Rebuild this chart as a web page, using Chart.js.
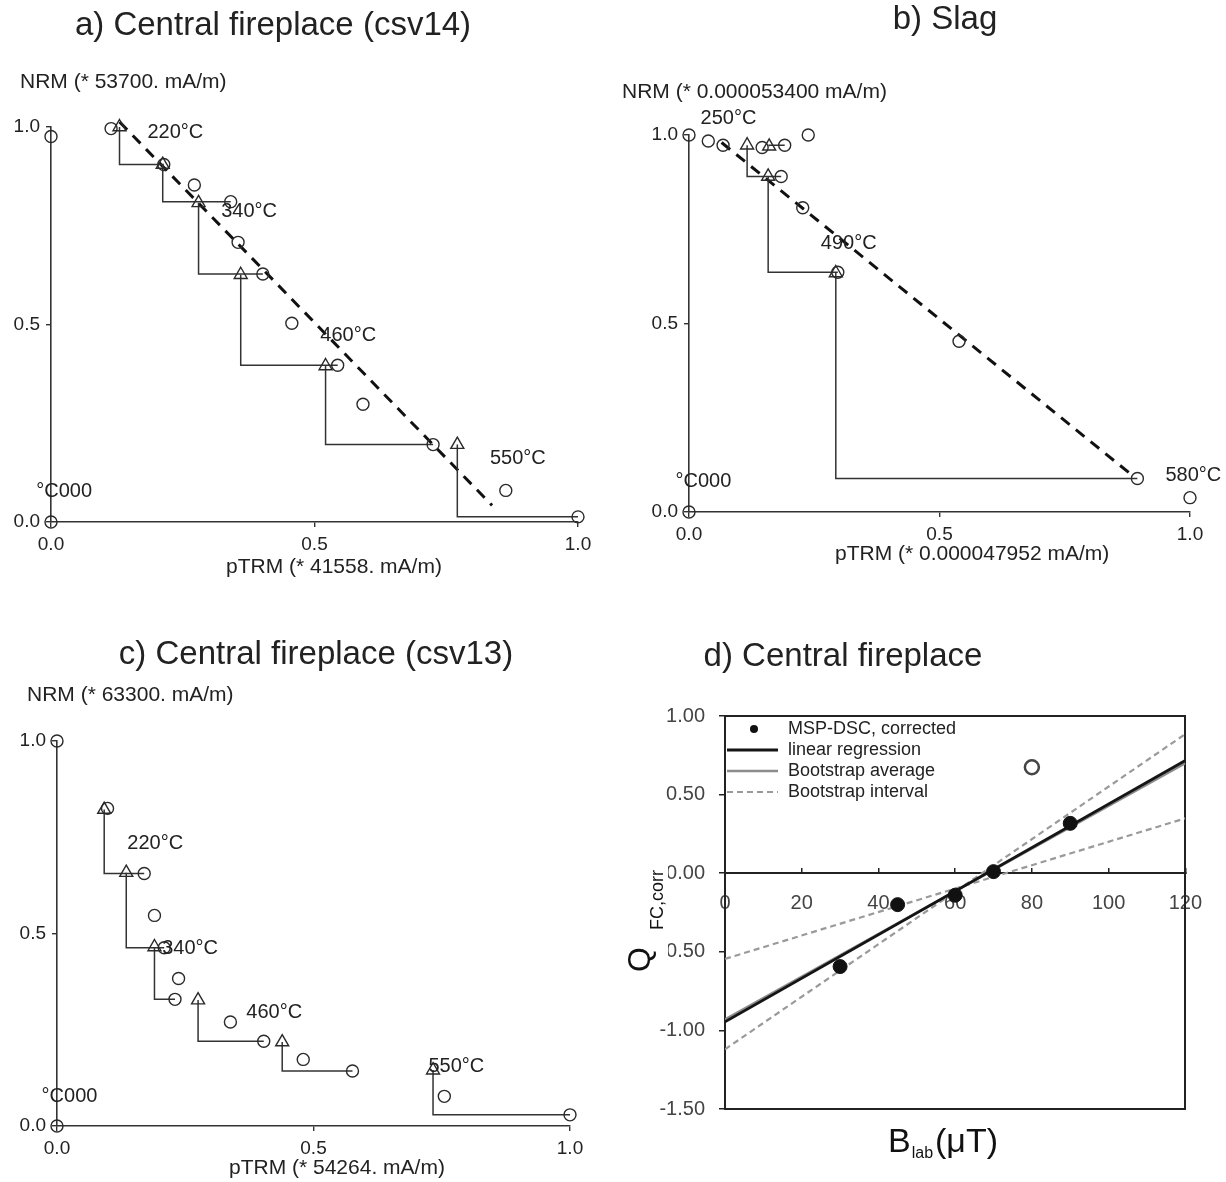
<!DOCTYPE html>
<html>
<head>
<meta charset="utf-8">
<script src="https://cdn.jsdelivr.net/npm/chart.js@4.4.1/dist/chart.umd.min.js"></script>
<style>
  html, body { margin: 0; padding: 0; background: #fff; }
  #wrap { position: relative; width: 1226px; height: 1182px; overflow: hidden; }
  canvas { position: absolute; }
</style>
</head>
<body>
<div id="wrap">
  <canvas id="pa" width="613" height="590" style="left:0;top:0"></canvas>
  <canvas id="pb" width="613" height="590" style="left:613px;top:0"></canvas>
  <canvas id="pc" width="613" height="592" style="left:0;top:590px"></canvas>
  <canvas id="pd" width="613" height="592" style="left:613px;top:590px"></canvas>
</div>
<script>
const FONT = '"Liberation Sans", Arial, Helvetica, sans-serif';
const INK = '#222';

// shared tick values of the Arai plots
const araiTicks = [0, 0.5, 1.0];

// a) Central fireplace (csv14)
const aPtrm = [0, 0.114, 0.214, 0.272, 0.341, 0.355, 0.402, 0.457, 0.544, 0.592, 0.725, 0.863, 1.0, 0];
const aNrm  = [0.976, 0.996, 0.905, 0.853, 0.811, 0.708, 0.628, 0.503, 0.397, 0.298, 0.196, 0.080, 0.013, 0];
const aCheckPtrm = [0.130, 0.212, 0.280, 0.360, 0.521, 0.771];
const aCheckNrm  = [1.000, 0.905, 0.808, 0.626, 0.395, 0.196];
const aCheckTo   = [2, 4, 6, 8, 10, 12];
const aFitPtrm = [0.130, 0.837];
const aFitNrm  = [1.013, 0.042];
const aTempText = ['220°C', '340°C', '460°C', '550°C', '°C000'];
const aTempPtrm = [0.183, 0.323, 0.511, 0.833, -0.028];
const aTempNrm  = [0.985, 0.786, 0.472, 0.160, 0.077];

// b) Slag
const bPtrm = [0, 0.0385, 0.068, 0.146, 0.191, 0.238, 0.184, 0.227, 0.297, 0.539, 0.895, 1.0, 0];
const bNrm  = [1.0, 0.984, 0.973, 0.967, 0.973, 1.0, 0.890, 0.807, 0.636, 0.453, 0.089, 0.038, 0];
const bCheckPtrm = [0.116, 0.160, 0.158, 0.293];
const bCheckNrm  = [0.973, 0.970, 0.890, 0.634];
const bCheckTo   = [6, 4, 8, 10];
const bFitPtrm = [0.065, 0.884];
const bFitNrm  = [0.980, 0.098];
const bTempText = ['250°C', '490°C', '580°C', '°C000'];
const bTempPtrm = [0.023, 0.263, 0.951, -0.027];
const bTempNrm  = [1.043, 0.712, 0.098, 0.081];

// c) Central fireplace (csv13)
const cPtrm = [0, 0.0985, 0.170, 0.190, 0.209, 0.237, 0.230, 0.338, 0.403, 0.480, 0.576, 0.755, 1.0, 0];
const cNrm  = [1.0, 0.825, 0.656, 0.547, 0.463, 0.383, 0.329, 0.270, 0.220, 0.173, 0.143, 0.077, 0.029, 0];
const cCheckPtrm = [0.092, 0.135, 0.190, 0.275, 0.439, 0.733];
const cCheckNrm  = [0.822, 0.658, 0.465, 0.327, 0.218, 0.145];
const cCheckTo   = [2, 4, 6, 8, 10, 12];
const cTempText = ['220°C', '340°C', '460°C', '550°C', '°C000'];
const cTempPtrm = [0.137, 0.205, 0.369, 0.724, -0.030];
const cTempNrm  = [0.734, 0.461, 0.296, 0.155, 0.077];

// d) Central fireplace, multispecimen
const dField = [30, 45, 60, 70, 90];
const dQ     = [-0.594, -0.200, -0.140, 0.010, 0.317];
const dRejField = [80];
const dRejQ     = [0.674];
const dLineField = [0, 120];
const dRegQ  = [-0.945, 0.717];
const dAvgQ  = [-0.930, 0.700];
const dHighQ = [-1.120, 0.885];
const dLowQ  = [-0.545, 0.349];
const dFieldTicks = [0, 20, 40, 60, 80, 100, 120];
const dQTicks = [-1.5, -1.0, -0.5, 0, 0.5, 1.0];

const pts = (xs, ys) => xs.map((x, i) => ({ x, y: ys[i] }));

// free text: titles at canvas pixels, temperature labels at data values
function textPlugin(temps, texts) {
  return {
    id: 'panelText',
    afterDraw(chart) {
      const { ctx, scales } = chart;
      ctx.save();
      ctx.textBaseline = 'middle';
      ctx.fillStyle = INK;
      temps.text.forEach((t, i) => {
        ctx.font = `20px ${FONT}`;
        ctx.textAlign = 'left';
        ctx.fillText(t, scales.x.getPixelForValue(temps.x[i]), scales.y.getPixelForValue(temps.y[i]));
      });
      texts.forEach(t => {
        ctx.font = `${t.size}px ${FONT}`;
        ctx.textAlign = t.align || 'left';
        ctx.fillText(t.text, t.x, t.y);
      });
      ctx.restore();
    }
  };
}

function padFor(area, w, h, axisW, axisH) {
  return { left: area.left - axisW, top: area.top, right: w - area.right, bottom: h - area.bottom - axisH };
}

function araiChart(id, p) {
  const circles = pts(p.ptrm, p.nrm);
  const steps = p.checkPtrm.map((cx, i) => {
    const j = p.checkTo[i];
    return {
      data: [{ x: cx, y: p.checkNrm[i] }, { x: cx, y: p.nrm[j] }, { x: p.ptrm[j], y: p.nrm[j] }],
      showLine: true, pointRadius: 0, borderColor: '#333', borderWidth: 1.5, clip: false,
    };
  });
  const datasets = [
    { data: circles, pointStyle: 'circle', pointRadius: 6, borderColor: '#2a2a2a', borderWidth: 1.4,
      backgroundColor: 'rgba(0,0,0,0)', clip: false },
    { data: pts(p.checkPtrm, p.checkNrm), pointStyle: 'triangle', pointRadius: 7.5, borderColor: '#2a2a2a',
      borderWidth: 1.4, backgroundColor: 'rgba(0,0,0,0)', clip: false },
    ...steps,
  ];
  if (p.fitPtrm) {
    datasets.push({ data: pts(p.fitPtrm, p.fitNrm), showLine: true, pointRadius: 0, borderColor: '#111',
      borderWidth: 3, borderDash: [11, 8], clip: false });
  }
  const cv = document.getElementById(id);
  const tickFont = { family: FONT, size: 19 };
  return new Chart(cv, {
    type: 'scatter',
    data: { datasets },
    options: {
      responsive: false,
      animation: false,
      events: [],
      layout: { padding: padFor(p.area, cv.width, cv.height, 48, 40) },
      plugins: { legend: { display: false }, tooltip: { enabled: false } },
      scales: {
        x: {
          type: 'linear', min: 0, max: 1,
          afterFit: s => { s.height = 40; },
          afterBuildTicks: s => { s.ticks = araiTicks.map(v => ({ value: v })); },
          ticks: { callback: v => v.toFixed(1), color: INK, font: tickFont, padding: 6, maxRotation: 0 },
          grid: { drawOnChartArea: false, tickLength: 5, color: '#333', lineWidth: 1.4 },
          border: { color: '#333', width: 1.6 },
        },
        y: {
          type: 'linear', min: 0, max: 1,
          afterFit: s => { s.width = 48; },
          afterBuildTicks: s => { s.ticks = araiTicks.map(v => ({ value: v })); },
          ticks: { callback: v => v.toFixed(1), color: INK, font: tickFont, padding: 6 },
          grid: { drawOnChartArea: false, tickLength: 5, color: '#333', lineWidth: 1.4 },
          border: { color: '#333', width: 1.6 },
        },
      },
    },
    plugins: [textPlugin(p.temps, p.texts)],
  });
}

araiChart('pa', {
  ptrm: aPtrm, nrm: aNrm, checkPtrm: aCheckPtrm, checkNrm: aCheckNrm, checkTo: aCheckTo,
  fitPtrm: aFitPtrm, fitNrm: aFitNrm,
  temps: { text: aTempText, x: aTempPtrm, y: aTempNrm },
  area: { left: 51, top: 127, right: 578, bottom: 522 },
  texts: [
    { text: 'a) Central fireplace (csv14)', x: 273, y: 26, size: 33, align: 'center' },
    { text: 'NRM (* 53700. mA/m)', x: 20, y: 82, size: 21 },
    { text: 'pTRM (* 41558. mA/m)', x: 226, y: 567, size: 21 },
  ],
});

araiChart('pb', {
  ptrm: bPtrm, nrm: bNrm, checkPtrm: bCheckPtrm, checkNrm: bCheckNrm, checkTo: bCheckTo,
  fitPtrm: bFitPtrm, fitNrm: bFitNrm,
  temps: { text: bTempText, x: bTempPtrm, y: bTempNrm },
  area: { left: 76, top: 135, right: 577, bottom: 512 },
  texts: [
    { text: 'b) Slag', x: 332, y: 20, size: 33, align: 'center' },
    { text: 'NRM (* 0.000053400 mA/m)', x: 9, y: 92, size: 21 },
    { text: 'pTRM (* 0.000047952 mA/m)', x: 222, y: 554, size: 21 },
  ],
});

araiChart('pc', {
  ptrm: cPtrm, nrm: cNrm, checkPtrm: cCheckPtrm, checkNrm: cCheckNrm, checkTo: cCheckTo,
  temps: { text: cTempText, x: cTempPtrm, y: cTempNrm },
  area: { left: 57, top: 151, right: 570, bottom: 536 },
  texts: [
    { text: 'c) Central fireplace (csv13)', x: 316, y: 65, size: 33, align: 'center' },
    { text: 'NRM (* 63300. mA/m)', x: 27, y: 105, size: 21 },
    { text: 'pTRM (* 54264. mA/m)', x: 229, y: 578, size: 21 },
  ],
});

// d) legend inside the box, Q and B_lab axis titles
const multiText = {
  id: 'multiText',
  afterDraw(chart) {
    const { ctx, chartArea: ca } = chart;
    ctx.save();
    // legend
    let row = 0;
    chart.data.datasets.forEach(ds => {
      if (!ds.label) return;
      const y = ca.top + 13 + row * 21;
      if (ds.showLine) {
        ctx.beginPath();
        ctx.setLineDash(ds.borderDash || []);
        ctx.strokeStyle = ds.borderColor;
        ctx.lineWidth = ds.borderWidth;
        ctx.moveTo(ca.left + 2, y);
        ctx.lineTo(ca.left + 53, y);
        ctx.stroke();
        ctx.setLineDash([]);
      } else {
        ctx.beginPath();
        ctx.fillStyle = ds.backgroundColor;
        ctx.arc(ca.left + 29, y, 4, 0, Math.PI * 2);
        ctx.fill();
      }
      ctx.fillStyle = INK;
      ctx.font = `18px ${FONT}`;
      ctx.textAlign = 'left';
      ctx.textBaseline = 'middle';
      ctx.fillText(ds.label, ca.left + 63, y);
      row++;
    });
    // panel title
    ctx.font = `33px ${FONT}`;
    ctx.textAlign = 'center';
    ctx.fillStyle = INK;
    ctx.fillText('d) Central fireplace', 230, 67);
    // y title: Q with subscript, rotated; its white box hides the start of two tick labels
    ctx.fillStyle = '#fff';
    ctx.fillRect(10, 275, 45, 120);
    ctx.save();
    ctx.translate(37, 382);
    ctx.rotate(-Math.PI / 2);
    ctx.fillStyle = '#111';
    ctx.textAlign = 'left';
    ctx.textBaseline = 'alphabetic';
    ctx.font = `32px ${FONT}`;
    ctx.fillText('Q', 0, 0);
    const qw = ctx.measureText('Q').width;
    ctx.font = `18px ${FONT}`;
    ctx.fillText('FC,corr', qw + 17, 13);
    ctx.restore();
    // x title: B_lab(μT)
    ctx.fillStyle = '#111';
    ctx.textAlign = 'left';
    ctx.textBaseline = 'alphabetic';
    let bx = 275;
    ctx.font = `34px ${FONT}`;
    ctx.fillText('B', bx, 562);
    bx += ctx.measureText('B').width;
    ctx.font = `16px ${FONT}`;
    ctx.fillText('lab', bx + 1, 568);
    bx += ctx.measureText('lab').width + 3;
    ctx.font = `34px ${FONT}`;
    ctx.fillText('(μT)', bx, 562);
    ctx.restore();
  }
};

(function () {
  const cv = document.getElementById('pd');
  const area = { left: 112, top: 126, right: 584, bottom: 519 };
  const tickFont = { family: FONT, size: 20 };
  const frame = { color: '#222', width: 2 };
  new Chart(cv, {
    type: 'scatter',
    data: {
      datasets: [
        { label: 'MSP-DSC, corrected', data: pts(dField, dQ), pointRadius: 7, backgroundColor: '#111',
          borderColor: '#111', borderWidth: 1, clip: false },
        { data: pts(dRejField, dRejQ), pointRadius: 7, backgroundColor: 'rgba(0,0,0,0)',
          borderColor: '#444', borderWidth: 2.5, clip: false },
        { label: 'linear regression', data: pts(dLineField, dRegQ), showLine: true, pointRadius: 0,
          borderColor: '#151515', borderWidth: 2.8 },
        { label: 'Bootstrap average', data: pts(dLineField, dAvgQ), showLine: true, pointRadius: 0,
          borderColor: '#8c8c8c', borderWidth: 2.5 },
        { label: 'Bootstrap interval', data: pts(dLineField, dHighQ), showLine: true, pointRadius: 0,
          borderColor: '#9a9a9a', borderWidth: 2.2, borderDash: [6, 4] },
        { data: pts(dLineField, dLowQ), showLine: true, pointRadius: 0,
          borderColor: '#9a9a9a', borderWidth: 2.2, borderDash: [6, 4] },
      ],
    },
    options: {
      responsive: false,
      animation: false,
      events: [],
      layout: { padding: padFor(area, cv.width, cv.height, 80, 0) },
      plugins: { legend: { display: false }, tooltip: { enabled: false } },
      scales: {
        x: {
          type: 'linear', axis: 'x', position: { y: 0 }, min: 0, max: 120,
          afterFit: s => { s.height = 0; },
          afterBuildTicks: s => { s.ticks = dFieldTicks.map(v => ({ value: v })); },
          ticks: { color: '#444', font: tickFont, padding: 24, maxRotation: 0, autoSkip: false },
          grid: { drawOnChartArea: false, tickLength: -6, color: '#222', lineWidth: 1.5 },
          border: frame,
        },
        y: {
          type: 'linear', position: 'left', min: -1.5, max: 1,
          afterFit: s => { s.width = 80; },
          afterBuildTicks: s => { s.ticks = dQTicks.map(v => ({ value: v })); },
          ticks: { callback: v => v.toFixed(2), color: '#444', font: tickFont, padding: 14 },
          grid: { drawOnChartArea: false, tickLength: 6, color: '#222', lineWidth: 1.5 },
          border: frame,
        },
        xt: { type: 'linear', axis: 'x', position: 'top', min: 0, max: 120,
          afterFit: s => { s.height = 0; }, ticks: { display: false }, grid: { display: false }, border: frame },
        xb: { type: 'linear', axis: 'x', position: 'bottom', min: 0, max: 120,
          afterFit: s => { s.height = 0; }, ticks: { display: false }, grid: { display: false }, border: frame },
        yr: { type: 'linear', axis: 'y', position: 'right', min: -1.5, max: 1,
          afterFit: s => { s.width = 0; }, ticks: { display: false }, grid: { display: false }, border: frame },
      },
    },
    plugins: [multiText],
  });
})();
</script>
</body>
</html>
